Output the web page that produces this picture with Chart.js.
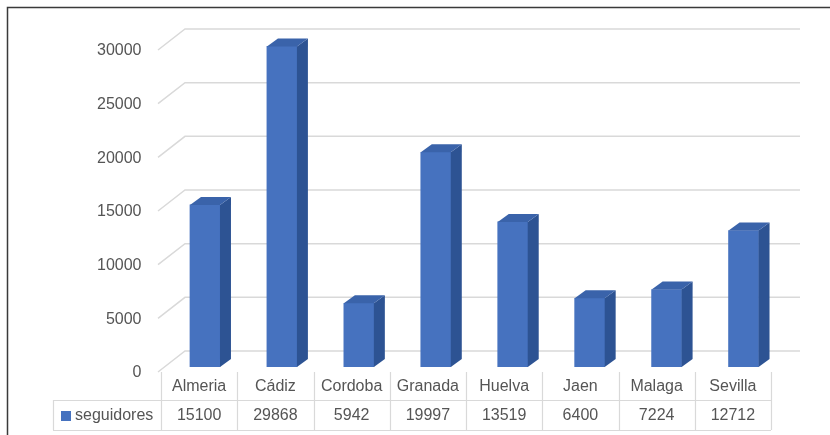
<!DOCTYPE html>
<html lang="es">
<head>
<meta charset="UTF-8">
<title>seguidores</title>
<script src="https://cdn.jsdelivr.net/npm/chart.js"></script>
<style>
  body { margin: 0; background: #fff; }
  canvas { display: block; }
</style>
</head>
<body>
<canvas id="chart" width="830" height="435"></canvas>
<script>
// data
const categories = ['Almeria', 'Cádiz', 'Cordoba', 'Granada', 'Huelva', 'Jaen', 'Malaga', 'Sevilla'];
const seguidores = [15100, 29868, 5942, 19997, 13519, 6400, 7224, 12712];
const seriesName = 'seguidores';
const yMax = 30000;
const yStep = 5000;

const FONT = '"Liberation Sans", Arial, sans-serif';
const TEXT = '#555555';
const GRID = '#d9d9d9';
const FRONT = '#4672bf';
const SIDE = '#2d5393';
const TOP = '#3a63aa';

// 3d look: depth of the floor and of the bars
const floor = { x0: 158, x1: 185, dyFront: 5, dyBack: -16, right: 800 };
const bar3d = { dx: 11, dy: 8 };
// data table under the plot
const table = { left: 161, colW: 76.25, headLeft: 53, top: 372, mid: 400, bottom: 430 };

const excel3d = {
  id: 'excel3d',
  beforeDraw(chart) {
    const ctx = chart.ctx;
    ctx.save();
    // frame (only top and left edges are in the picture)
    ctx.strokeStyle = '#3a3a3a';
    ctx.lineWidth = 1.5;
    ctx.beginPath();
    ctx.moveTo(7.5, 435);
    ctx.lineTo(7.5, 7.5);
    ctx.lineTo(830, 7.5);
    ctx.stroke();
    ctx.restore();
  },
  beforeDatasetsDraw(chart) {
    const ctx = chart.ctx;
    const y = chart.scales.y;
    ctx.save();
    ctx.strokeStyle = GRID;
    ctx.lineWidth = 1.5;
    y.ticks.forEach(t => {
      const py = y.getPixelForValue(t.value);
      ctx.beginPath();
      ctx.moveTo(floor.x0, py + floor.dyFront);
      ctx.lineTo(floor.x1, py + floor.dyBack);
      ctx.lineTo(floor.right, py + floor.dyBack);
      ctx.stroke();
    });
    ctx.restore();
  },
  afterDatasetsDraw(chart) {
    const ctx = chart.ctx;
    const meta = chart.getDatasetMeta(0);
    ctx.save();
    meta.data.forEach(b => {
      const l = b.x - b.width / 2, r = b.x + b.width / 2;
      // side face
      ctx.fillStyle = SIDE;
      ctx.beginPath();
      ctx.moveTo(r, b.y);
      ctx.lineTo(r + bar3d.dx, b.y - bar3d.dy);
      ctx.lineTo(r + bar3d.dx, b.base - bar3d.dy);
      ctx.lineTo(r, b.base);
      ctx.closePath();
      ctx.fill();
      // top face
      ctx.fillStyle = TOP;
      ctx.beginPath();
      ctx.moveTo(l, b.y);
      ctx.lineTo(l + bar3d.dx, b.y - bar3d.dy);
      ctx.lineTo(r + bar3d.dx, b.y - bar3d.dy);
      ctx.lineTo(r, b.y);
      ctx.closePath();
      ctx.fill();
    });
    ctx.restore();
  },
  afterDraw(chart) {
    const ctx = chart.ctx;
    const n = categories.length;
    const right = table.left + n * table.colW;
    ctx.save();
    ctx.strokeStyle = GRID;
    ctx.lineWidth = 1.2;
    ctx.beginPath();
    for (let i = 0; i <= n; i++) {
      const x = Math.round(table.left + i * table.colW) + 0.5;
      ctx.moveTo(x, table.top);
      ctx.lineTo(x, table.bottom);
    }
    ctx.moveTo(table.headLeft + 0.5, table.mid);
    ctx.lineTo(table.headLeft + 0.5, table.bottom);
    ctx.moveTo(table.headLeft, table.mid + 0.5);
    ctx.lineTo(right, table.mid + 0.5);
    ctx.moveTo(table.headLeft, table.bottom + 0.5);
    ctx.lineTo(right, table.bottom + 0.5);
    ctx.stroke();

    ctx.fillStyle = TEXT;
    ctx.font = '16px ' + FONT;
    ctx.textAlign = 'center';
    ctx.textBaseline = 'middle';
    categories.forEach((c, i) => {
      const cx = table.left + (i + 0.5) * table.colW;
      ctx.fillText(c, cx, (table.top + table.mid) / 2 + 1);
      ctx.fillText(String(seguidores[i]), cx, (table.mid + table.bottom) / 2 + 1);
    });
    // legend key in the table header
    ctx.fillStyle = FRONT;
    ctx.fillRect(61, 411, 10, 10);
    ctx.fillStyle = TEXT;
    ctx.textAlign = 'left';
    ctx.fillText(seriesName, 75, (table.mid + table.bottom) / 2 + 1);
    ctx.restore();
  }
};

new Chart(document.getElementById('chart'), {
  type: 'bar',
  data: {
    labels: categories,
    datasets: [{
      label: seriesName,
      data: seguidores,
      backgroundColor: FRONT,
      borderWidth: 0,
      barThickness: 30
    }]
  },
  options: {
    responsive: false,
    animation: false,
    devicePixelRatio: 1,
    layout: { padding: { left: 0, right: 48, top: 45, bottom: 68 } },
    plugins: {
      legend: { display: false },
      tooltip: { enabled: false }
    },
    scales: {
      x: { display: false },
      y: {
        min: 0,
        max: yMax,
        afterFit: s => { s.width = 166.5; },
        grid: { display: false, drawTicks: false },
        border: { display: false },
        ticks: {
          stepSize: yStep,
          padding: 25,
          labelOffset: 6,
          color: TEXT,
          font: { family: FONT, size: 16 },
          callback: v => String(v)
        }
      }
    }
  },
  plugins: [excel3d]
});
</script>
</body>
</html>
